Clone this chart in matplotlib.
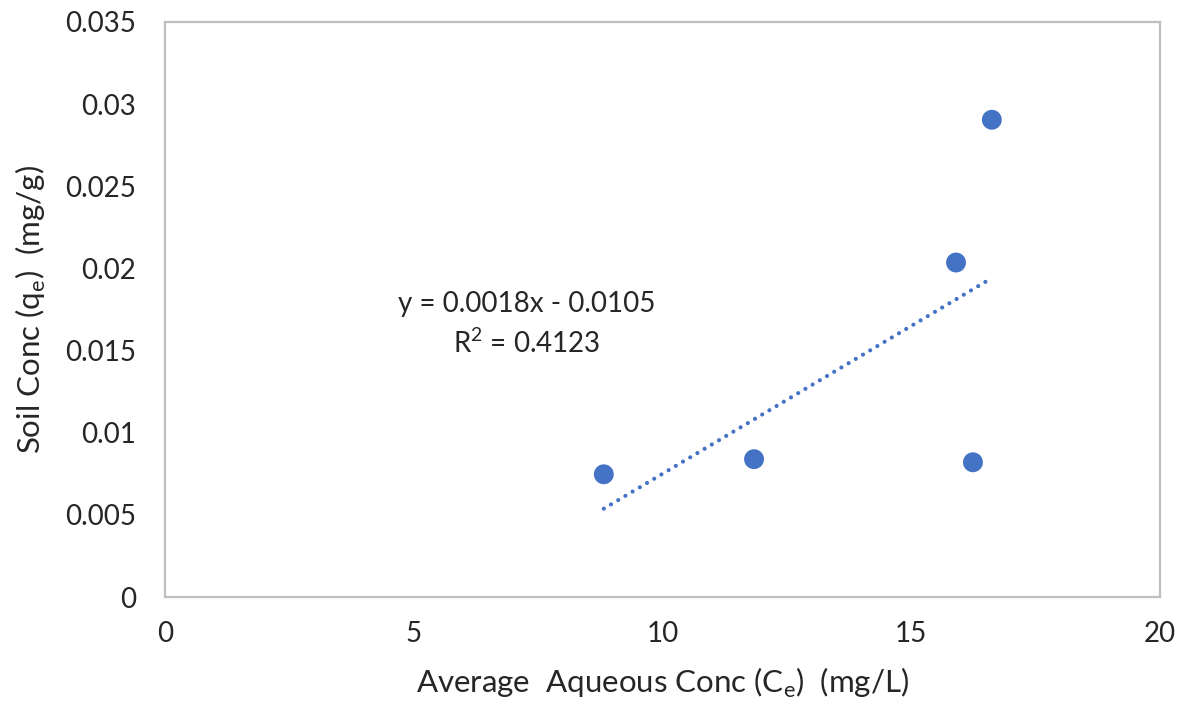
import matplotlib
matplotlib.use("Agg")
import matplotlib.pyplot as plt
import numpy as np

plt.rcParams['font.family'] = ['Lato', 'DejaVu Sans']
plt.rcParams['mathtext.fontset'] = 'custom'
plt.rcParams['mathtext.rm'] = 'Lato'

# Sorption data
aqueous_conc = [8.82, 11.84, 15.90, 16.24, 16.62]      # Ce (mg/L)
soil_conc = [0.00747, 0.00839, 0.02036, 0.00820, 0.02905]  # qe (mg/g)

# Linear trendline coefficients
slope = 0.0018
intercept = -0.0105
r_squared = 0.4123

x_ticks = [0, 5, 10, 15, 20]
y_ticks = [0, 0.005, 0.01, 0.015, 0.02, 0.025, 0.03, 0.035]
y_tick_labels = ["0", "0.005", "0.01", "0.015", "0.02", "0.025", "0.03", "0.035"]

blue = "#4472C4"
frame = "#BFBFBF"
text_color = "#262626"

fig = plt.figure(figsize=(11.83, 7.14), dpi=100)
ax = fig.add_axes([165 / 1183, 1 - 597 / 714, (1160 - 165) / 1183, (597 - 22) / 714])

ax.scatter(aqueous_conc, soil_conc, s=205, color=blue, edgecolors='none', zorder=3)

xs = np.array([min(aqueous_conc), max(aqueous_conc)])
ax.plot(xs, slope * xs + intercept, color=blue, lw=3.0,
        linestyle=(0, (0.01, 2.0)), dash_capstyle='round', zorder=2)

ax.set_xlim(0, 20)
ax.set_ylim(0, 0.035)
ax.set_xticks(x_ticks)
ax.set_xticklabels([str(t) for t in x_ticks])
ax.set_yticks(y_ticks)
ax.set_yticklabels(y_tick_labels)
ax.tick_params(length=0, labelsize=20, colors=text_color)
ax.tick_params(axis='y', pad=21)
ax.tick_params(axis='x', pad=17)

for s in ax.spines.values():
    s.set_color(frame)
    s.set_linewidth(1.6)

ax.set_xlabel(r"Average  Aqueous Conc (C$_\mathregular{e}$)  (mg/L)",
              fontsize=22.5, color=text_color, labelpad=14)
ax.set_ylabel(r"Soil Conc (q$_\mathregular{e}$)  (mg/g)",
              fontsize=22.5, color=text_color, labelpad=12)

ax.text(7.28, 0.0166,
        f"y = {slope}x - {abs(intercept)}\nR$^\\mathregular{{2}}$ = {r_squared}",
        ha='center', va='center', fontsize=20,
        color=text_color, linespacing=1.45)

fig.savefig("out.png", dpi=100)
